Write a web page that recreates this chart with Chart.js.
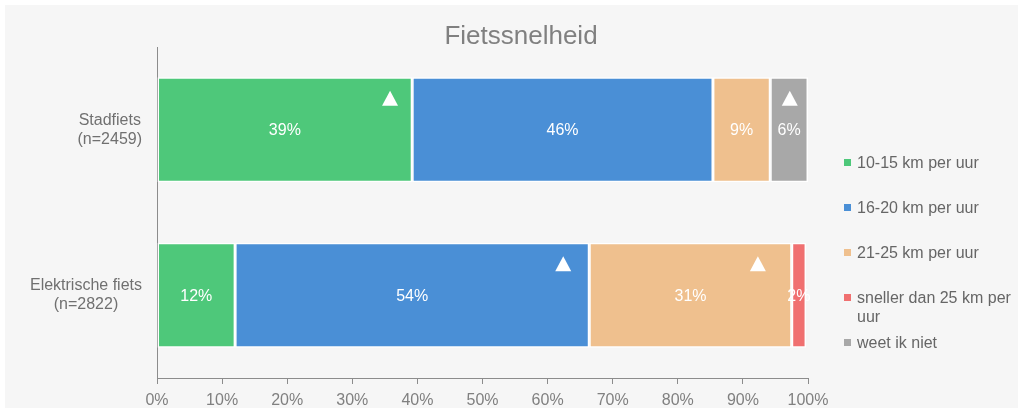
<!DOCTYPE html>
<html>
<head>
<meta charset="utf-8">
<script src="https://cdn.jsdelivr.net/npm/chart.js@4"></script>
<style>
body{margin:0;background:#fff;font-family:"Liberation Sans",Arial,sans-serif;}
#wrap{position:absolute;left:5px;top:5px;width:1013px;height:403px;background:#f6f6f6;overflow:hidden;}
#cbox{position:absolute;left:0;top:0;width:1013px;height:403px;}
#title{position:absolute;left:19px;right:0;top:16px;line-height:28px;text-align:center;font-size:26px;color:#808080;}
#legend{position:absolute;left:839px;top:0;width:176px;}
.item{position:absolute;left:0;display:flex;font-size:16px;line-height:19px;color:#666;width:176px;}
.sw{width:7px;height:7px;margin:6px 6px 0 0;flex:none;}
</style>
</head>
<body>
<div id="wrap">
  <div id="cbox"><canvas id="c"></canvas></div>
  <div id="title">Fietssnelheid</div>
  <div id="legend"></div>
</div>
<script>
const categories = [['Stadfiets', '(n=2459)'], ['Elektrische fiets', '(n=2822)']];
const seriesNames = ['10-15 km per uur', '16-20 km per uur', '21-25 km per uur', 'sneller dan 25 km per uur', 'weet ik niet'];
const seriesColors = ['#4ec87a', '#4a8fd6', '#efc08e', '#f07070', '#a8a8a8'];
const v1015 = [39.2, 12.0];
const v1620 = [46.2, 54.4];
const v2125 = [8.8, 31.1];
const vSneller = [0, 2.2];
const vWeetNiet = [5.8, 0];
const xTicks = [0, 10, 20, 30, 40, 50, 60, 70, 80, 90, 100];
// significance triangles: category index and position on the % axis
const markerCat = [0, 0, 1, 1];
const markerAt = [35.8, 97.2, 62.4, 92.3];

const seriesValues = [v1015, v1620, v2125, vSneller, vWeetNiet];
const FONT = '"Liberation Sans", Arial, sans-serif';

// legend (html so the long label can wrap)
const legendEl = document.getElementById('legend');
seriesNames.forEach((name, i) => {
  const it = document.createElement('div');
  it.className = 'item';
  it.style.top = (148 + i * 45) + 'px';
  it.innerHTML = '<span class="sw" style="background:' + seriesColors[i] + '"></span><span>' + name + '</span>';
  legendEl.appendChild(it);
});

const valueLabels = {
  id: 'valueLabels',
  afterDatasetsDraw(chart) {
    const ctx = chart.ctx;
    ctx.save();
    ctx.font = '16px ' + FONT;
    ctx.fillStyle = '#fff';
    ctx.textAlign = 'center';
    ctx.textBaseline = 'middle';
    chart.data.datasets.forEach((ds, i) => {
      chart.getDatasetMeta(i).data.forEach((bar, j) => {
        const v = ds.data[j];
        if (!v) return;
        const p = bar.getProps(['x', 'y', 'base'], true);
        ctx.fillText(Math.round(v) + '%', (p.x + p.base) / 2, p.y + 1);
      });
    });
    // triangles
    const xs = chart.scales.x, ys = chart.scales.y;
    ctx.fillStyle = '#fff';
    markerAt.forEach((at, k) => {
      const cx = xs.getPixelForValue(at);
      const cy = ys.getPixelForValue(markerCat[k]) - 31;
      ctx.beginPath();
      ctx.moveTo(cx, cy - 8);
      ctx.lineTo(cx + 8, cy + 7);
      ctx.lineTo(cx - 8, cy + 7);
      ctx.closePath();
      ctx.fill();
    });
    ctx.restore();
  }
};

const catLabels = {
  id: 'catLabels',
  afterDraw(chart) {
    const ctx = chart.ctx, ys = chart.scales.y;
    ctx.save();
    ctx.font = '16px ' + FONT;
    ctx.fillStyle = '#707070';
    ctx.textAlign = 'center';
    ctx.textBaseline = 'middle';
    categories.forEach((lines, i) => {
      const w = Math.max(...lines.map(l => ctx.measureText(l).width));
      const cx = ys.right - 15 - w / 2;
      const cy = ys.getPixelForValue(i);
      lines.forEach((l, k) => {
        ctx.fillText(l, cx, cy + (k - (lines.length - 1) / 2) * 19);
      });
    });
    ctx.restore();
  }
};

new Chart(document.getElementById('c'), {
  type: 'bar',
  data: {
    labels: categories.map(c => c.join(' ')),
    datasets: seriesNames.map((name, i) => ({
      label: name,
      data: seriesValues[i],
      backgroundColor: seriesColors[i],
      borderColor: '#fff',
      borderWidth: 1.5,
      borderSkipped: false,
      barPercentage: 0.635,
      categoryPercentage: 1
    }))
  },
  options: {
    indexAxis: 'y',
    responsive: true,
    maintainAspectRatio: false,
    animation: false,
    layout: { padding: { left: 0, top: 42, right: 210, bottom: 0 } },
    plugins: { legend: { display: false }, title: { display: false }, tooltip: { enabled: false } },
    scales: {
      x: {
        stacked: true, min: 0, max: 100,
        afterBuildTicks: s => { s.ticks = xTicks.map(v => ({ value: v })); },
        afterFit: s => { s.height = 30; },
        grid: { display: true, drawOnChartArea: false, drawTicks: true, tickLength: 6, color: '#8c8c8c' },
        border: { display: true, color: '#8c8c8c' },
        ticks: { color: '#808080', font: { size: 16, family: FONT }, padding: 7, maxRotation: 0, callback: v => v + '%' }
      },
      y: {
        stacked: true,
        afterFit: s => { s.width = 152; },
        grid: { display: false },
        border: { display: true, color: '#8c8c8c' },
        ticks: { display: false }
      }
    }
  },
  plugins: [valueLabels, catLabels]
});
</script>
</body>
</html>
